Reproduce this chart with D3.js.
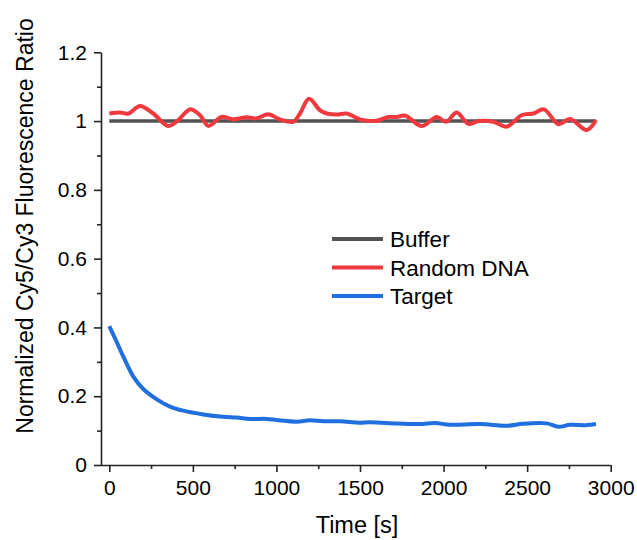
<!DOCTYPE html>
<html><head><meta charset="utf-8">
<script src="https://cdn.jsdelivr.net/npm/d3@7/dist/d3.min.js"></script>
<style>body{margin:0;background:#fff}svg{display:block}text{font-family:"Liberation Sans",Arial,sans-serif;fill:#000}</style>
</head><body><svg id="c" width="637" height="540"></svg>
<script>
const seriesNames = ["Buffer", "Random DNA", "Target"];
const seriesColors = ["#525252", "#f0393f", "#1f6fde"];
const bufferTime = [0, 500, 1000, 1500, 2000, 2500, 2912];
const bufferValues = [1, 1, 1, 1, 1, 1, 1];
const randomTime = [0, 64, 114, 184, 263, 353, 413, 483, 543, 593, 672, 742, 822, 882, 951, 1021, 1101, 1141, 1195, 1261, 1301, 1361, 1420, 1500, 1600, 1670, 1720, 1769, 1869, 1959, 2015, 2079, 2148, 2208, 2298, 2378, 2467, 2537, 2601, 2687, 2757, 2857, 2912];
const randomValues = [1.022, 1.025, 1.022, 1.044, 1.022, 0.986, 1.003, 1.034, 1.017, 0.986, 1.012, 1.005, 1.011, 1.008, 1.020, 1.005, 0.998, 1.022, 1.065, 1.031, 1.022, 1.019, 1.022, 1.005, 1.001, 1.012, 1.012, 1.016, 0.986, 1.012, 0.998, 1.025, 0.992, 1.000, 0.998, 0.984, 1.017, 1.022, 1.034, 0.991, 1.006, 0.974, 1.003];
const targetTime = [0, 44, 84, 144, 203, 284, 363, 443, 562, 682, 762, 842, 942, 1001, 1121, 1201, 1281, 1380, 1496, 1560, 1720, 1859, 1949, 2039, 2218, 2378, 2477, 2617, 2687, 2757, 2857, 2912];
const targetValues = [0.404, 0.358, 0.315, 0.257, 0.221, 0.191, 0.170, 0.158, 0.147, 0.140, 0.138, 0.134, 0.134, 0.131, 0.126, 0.130, 0.127, 0.127, 0.123, 0.124, 0.121, 0.119, 0.122, 0.117, 0.119, 0.114, 0.120, 0.121, 0.111, 0.117, 0.116, 0.119];
const xTicks = [0, 500, 1000, 1500, 2000, 2500, 3000];
const xMinorTicks = [250, 750, 1250, 1750, 2250, 2750];
const yTicks = [0, 0.2, 0.4, 0.6, 0.8, 1, 1.2];
const yMinorTicks = [0.1, 0.3, 0.5, 0.7, 0.9, 1.1];
const xTitle = "Time [s]";
const yTitle = "Normalized Cy5/Cy3 Fluorescence Ratio";

const svg = d3.select("#c");
const x = d3.scaleLinear().domain([0, 3000]).range([109.3, 610.7]);
const y = d3.scaleLinear().domain([0, 1.2]).range([465, 52.3]);
const axisColor = "#222";
const font = '"Liberation Sans",Arial,sans-serif';

// minor ticks
svg.append("g").attr("transform", "translate(0,465)")
  .call(d3.axisBottom(x).tickValues(xMinorTicks).tickSize(4).tickFormat(""))
  .call(g => g.select(".domain").remove());
svg.append("g").attr("transform", "translate(101,0)")
  .call(d3.axisLeft(y).tickValues(yMinorTicks).tickSize(4).tickFormat(""))
  .call(g => g.select(".domain").remove());

const xAxis = svg.append("g").attr("transform", "translate(0,465)")
  .call(d3.axisBottom(x).tickValues(xTicks).tickSize(7).tickSizeOuter(0).tickPadding(8).tickFormat(d3.format("d")));
xAxis.select(".domain").attr("d", `M101,0.5H${x(3000)}`);
const yAxis = svg.append("g").attr("transform", "translate(101,0)")
  .call(d3.axisLeft(y).tickValues(yTicks).tickSize(7).tickSizeOuter(0).tickPadding(7).tickFormat(d => d3.format("~g")(d)));
svg.selectAll(".domain, .tick line").attr("stroke", axisColor).attr("stroke-width", 1.6);
svg.selectAll(".tick text").style("font-size", "21px").style("font-family", font).attr("fill", "#000");
xAxis.selectAll(".tick text").attr("dy", "0.72em");

const line = d3.line().x(d => x(d[0])).y(d => y(d[1])).curve(d3.curveCatmullRom.alpha(0.5));
const series = [
  [bufferTime, bufferValues],
  [randomTime, randomValues],
  [targetTime, targetValues]
];
series.forEach((s, i) => {
  const pts = s[0].map((t, j) => [t, s[1][j]]);
  svg.append("path").datum(pts).attr("d", line)
    .attr("fill", "none").attr("stroke", seriesColors[i])
    .attr("stroke-width", i === 0 ? 3.5 : 4).attr("stroke-linejoin", "round");
});

// legend
const legend = svg.append("g");
seriesNames.forEach((n, i) => {
  const ly = 239 + i * 28.5;
  legend.append("line").attr("x1", 332).attr("x2", 383).attr("y1", ly).attr("y2", ly)
    .attr("stroke", seriesColors[i]).attr("stroke-width", 4);
  legend.append("text").attr("x", 390).attr("y", ly).attr("dy", "0.36em")
    .style("font-size", "22.5px").text(n);
});

svg.append("text").attr("x", 357).attr("y", 533).attr("text-anchor", "middle")
  .style("font-size", "23.5px").text(xTitle);
svg.append("text").attr("transform", "translate(33,226) rotate(-90)").attr("text-anchor", "middle")
  .style("font-size", "23px").text(yTitle);
</script></body></html>
